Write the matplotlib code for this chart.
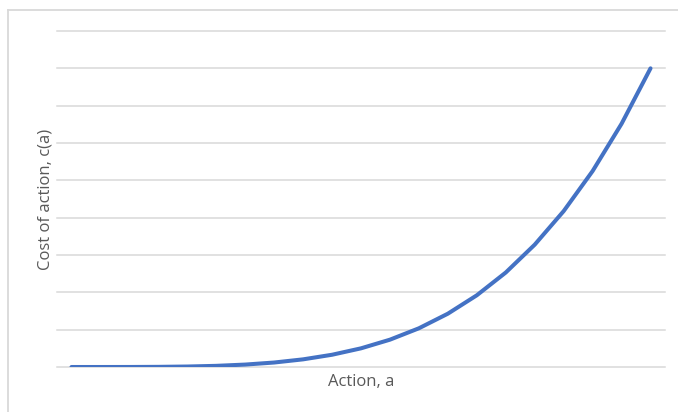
import matplotlib
matplotlib.use('Agg')
import matplotlib.pyplot as plt
from matplotlib.lines import Line2D

# action levels (category axis) and the cost of each
actions = list(range(21))
cost = [0.0, 0.00005, 0.0008, 0.004, 0.0128, 0.031, 0.065, 0.120, 0.205, 0.328,
        0.5, 0.732, 1.037, 1.428, 1.921, 2.531, 3.277, 4.176, 5.249, 6.516, 8.0]
grid_levels = list(range(10))

W, H = 678, 412
fig = plt.figure(figsize=(W / 100, H / 100), dpi=100)
fig.patch.set_facecolor('white')

# chart area border (top and left edges visible)
border = '#D9D9D9'
fig.add_artist(Line2D([8 / W, 1], [1 - 10 / H, 1 - 10 / H], color=border, lw=1.3))
fig.add_artist(Line2D([8 / W, 8 / W], [0, 1 - 10 / H], color=border, lw=1.3))

ax = fig.add_axes([57 / W, 45 / H, (665 - 57) / W, (367 - 31) / H])
ax.plot(actions, cost, color='#4472C4', lw=2.9, solid_capstyle='round', solid_joinstyle='round', zorder=3)

ax.set_xlim(-0.5, 20.5)
ax.set_ylim(0, 9)
ax.set_yticks(grid_levels)
ax.set_xticks([])
ax.tick_params(axis='y', length=0, labelleft=False)
ax.grid(axis='y', color='#D9D9D9', lw=1.1)
for gl in ax.get_ygridlines():
    gl.set_clip_on(False)
for s in ax.spines.values():
    s.set_visible(False)

font = ['Open Sans', 'DejaVu Sans']
fig.text(45 / W, 1 - 199 / H, 'Cost of action, c(a)', rotation=90, ha='center', va='center',
         color='#595959', fontsize=12, family=font)
fig.text(361 / W, 1 - 382 / H, 'Action, a', ha='center', va='center',
         color='#595959', fontsize=12, family=font)

fig.savefig('out.png', dpi=100)
